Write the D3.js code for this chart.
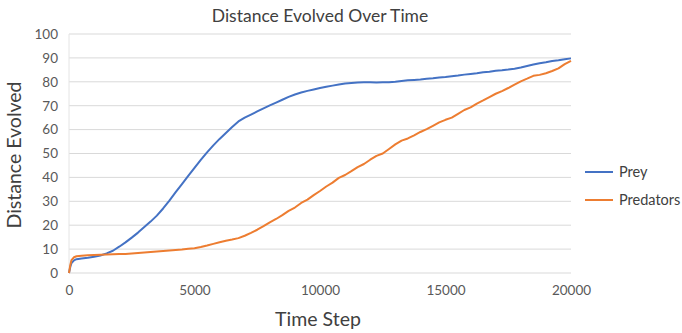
<!DOCTYPE html>
<html>
<head>
<meta charset="utf-8">
<script src="https://cdn.jsdelivr.net/npm/d3@7"></script>
<style>
  html, body { margin: 0; padding: 0; background: #fff; }
  svg { display: block; }
</style>
</head>
<body>
<svg id="chart" width="682" height="333"></svg>
<script>
// Time steps sampled along the run
const steps = [0, 50, 100, 200, 300, 500, 750, 1000, 1250, 1500, 1750, 2000, 2250, 2500, 2750,
  3000, 3250, 3500, 3750, 4000, 4250, 4500, 4750, 5000, 5250, 5500, 5750, 6000, 6250, 6500, 6750,
  7000, 7250, 7500, 7750, 8000, 8250, 8500, 8750, 9000, 9250, 9500, 9750, 10000, 10250, 10500, 10750,
  11000, 11250, 11500, 11750, 12000, 12250, 12500, 12750, 13000, 13250, 13500, 13750, 14000, 14250,
  14500, 14750, 15000, 15250, 15500, 15750, 16000, 16250, 16500, 16750, 17000, 17250, 17500, 17750,
  18000, 18250, 18500, 18750, 19000, 19250, 19500, 19750, 20000];

// Mean distance evolved by prey
const prey = [0, 2.5, 4.2, 5.3, 5.8, 6.1, 6.4, 6.8, 7.3, 8.2, 9.3, 11.0, 12.8, 14.8, 16.9,
  19.2, 21.5, 24.0, 27.0, 30.3, 33.8, 37.2, 40.6, 44.0, 47.3, 50.5, 53.4, 56.1, 58.6, 61.1, 63.4,
  65.0, 66.3, 67.6, 68.9, 70.1, 71.3, 72.5, 73.7, 74.7, 75.5, 76.2, 76.8, 77.4, 77.9, 78.4, 78.9,
  79.3, 79.5, 79.7, 79.8, 79.8, 79.7, 79.8, 79.8, 80.0, 80.3, 80.6, 80.8, 81.0, 81.3,
  81.5, 81.8, 82.0, 82.3, 82.6, 83.0, 83.3, 83.6, 84.0, 84.2, 84.6, 84.8, 85.1, 85.5,
  86.0, 86.6, 87.2, 87.8, 88.2, 88.7, 89.0, 89.4, 89.8];

// Mean distance evolved by predators
const predators = [0, 3.2, 5.4, 6.6, 7.0, 7.2, 7.4, 7.5, 7.6, 7.7, 7.8, 7.9, 8.0, 8.2, 8.4,
  8.6, 8.8, 9.0, 9.2, 9.4, 9.6, 9.8, 10.1, 10.4, 10.9, 11.5, 12.2, 12.9, 13.5, 14.0, 14.6,
  15.6, 16.8, 18.1, 19.6, 21.2, 22.6, 24.2, 26.0, 27.4, 29.3, 30.7, 32.6, 34.3, 36.2, 37.8, 39.8,
  41.0, 42.6, 44.3, 45.6, 47.4, 49.0, 50.0, 51.9, 53.8, 55.4, 56.3, 57.6, 59.0, 60.2,
  61.6, 63.0, 64.1, 65.0, 66.6, 68.2, 69.3, 70.9, 72.2, 73.6, 75.0, 76.1, 77.4, 78.8,
  80.2, 81.3, 82.5, 82.9, 83.6, 84.5, 85.6, 87.4, 88.8];

const xTicks = [0, 5000, 10000, 15000, 20000];
const yTicks = [0, 10, 20, 30, 40, 50, 60, 70, 80, 90, 100];
const seriesNames = ["Prey", "Predators"];
const seriesColors = ["#4472C4", "#ED7D31"];

const svg = d3.select("#chart");
const font = "Lato, 'Open Sans', sans-serif";

const x = d3.scaleLinear().domain([0, 20000]).range([69, 571]);
const y = d3.scaleLinear().domain([0, 100]).range([273, 34]);

// Horizontal gridlines
svg.append("g")
  .selectAll("line")
  .data(yTicks)
  .join("line")
  .attr("x1", x(0)).attr("x2", x(20000))
  .attr("y1", d => y(d)).attr("y2", d => y(d))
  .attr("stroke", "#d9d9d9")
  .attr("stroke-width", 1);

// Left frame edge
svg.append("line")
  .attr("x1", x(0)).attr("x2", x(0))
  .attr("y1", y(100)).attr("y2", y(0))
  .attr("stroke", "#e4e4e4").attr("stroke-width", 1);

// Y axis tick labels
const yAxis = d3.axisLeft(y).tickValues(yTicks).tickSize(0).tickPadding(11);
svg.append("g")
  .attr("transform", `translate(${x(0)},0)`)
  .call(yAxis)
  .call(g => g.select(".domain").remove())
  .call(g => g.selectAll("text").attr("font-family", font).attr("font-size", 13.5).attr("fill", "#595959"));

// X axis tick labels
const xAxis = d3.axisBottom(x).tickValues(xTicks).tickFormat(d3.format("d")).tickSize(0).tickPadding(12);
svg.append("g")
  .attr("transform", `translate(0,${y(0)})`)
  .call(xAxis)
  .call(g => g.select(".domain").remove())
  .call(g => g.selectAll("text").attr("font-family", font).attr("font-size", 13.5).attr("fill", "#595959"));

// Series lines
const line = d3.line().x((d, i) => x(steps[i])).y(d => y(d));
[prey, predators].forEach((vals, k) => {
  svg.append("path")
    .datum(vals)
    .attr("d", line)
    .attr("fill", "none")
    .attr("stroke", seriesColors[k])
    .attr("stroke-width", 2)
    .attr("stroke-linejoin", "round");
});

// Title
svg.append("text")
  .attr("x", 320).attr("y", 22)
  .attr("text-anchor", "middle")
  .attr("font-family", font).attr("font-size", 17.5)
  .attr("fill", "#404040")
  .text("Distance Evolved Over Time");

// Axis titles
svg.append("text")
  .attr("x", 318).attr("y", 326)
  .attr("text-anchor", "middle")
  .attr("font-family", font).attr("font-size", 19.5)
  .attr("fill", "#404040")
  .text("Time Step");

svg.append("text")
  .attr("transform", "translate(21,155) rotate(-90)")
  .attr("text-anchor", "middle")
  .attr("font-family", font).attr("font-size", 19.5)
  .attr("fill", "#404040")
  .text("Distance Evolved");

// Legend
const legend = svg.append("g");
seriesNames.forEach((name, k) => {
  const ly = 172 + k * 28;
  legend.append("line")
    .attr("x1", 585).attr("x2", 613)
    .attr("y1", ly).attr("y2", ly)
    .attr("stroke", seriesColors[k]).attr("stroke-width", 2);
  legend.append("text")
    .attr("x", 619).attr("y", ly + 5)
    .attr("font-family", font).attr("font-size", 14.5)
    .attr("fill", "#404040")
    .text(name);
});
</script>
</body>
</html>
